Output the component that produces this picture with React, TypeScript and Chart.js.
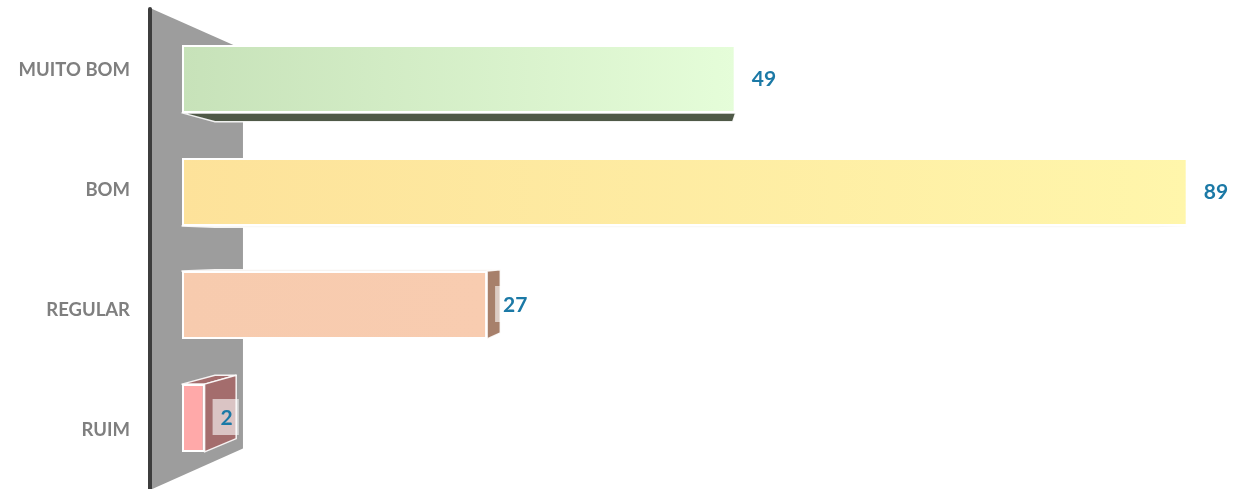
import React, { useEffect, useRef } from "react";
import { Chart, registerables } from "chart.js";

Chart.register(...registerables);

const categories = ["MUITO BOM", "BOM", "REGULAR", "RUIM"];
const values = [49, 89, 27, 2];
const frontStart = ["#c7e2b9", "#fde29a", "#f7cbae", "#ffa9a9"];
const frontEnd = ["#e5fdd9", "#fff6ab", "#f8ccb0", "#ffa9a9"];
const sideColors = ["#4f5947", "#bdb69a", "#a7806b", "#a46d6d"];
const X_MAX = 90;
const VANISH_VALUE = 45;

const LABEL_FONT = "bold 18.5px Lato, 'Open Sans', sans-serif";
const VALUE_FONT = "bold 21px Lato, 'Open Sans', sans-serif";
const LABEL_COLOR = "#7f7f7f";
const VALUE_COLOR = "#1b79a6";

const depth3d = {
  id: "depth3d",
  beforeDatasetsDraw(chart: any) {
    const ctx = chart.ctx;
    const { left, top, bottom } = chart.chartArea;
    const xs = chart.scales.x;
    const vx = xs.getPixelForValue(VANISH_VALUE);
    const vy = (top + bottom) / 2;
    const proj = (x: number, y: number, s: number) => [vx + s * (x - vx), vy + s * (y - vy)];

    // back wall
    const wx = left - 32;
    const wt = 8;
    const wb = chart.height + 1;
    const sW = 0.828;
    const [bx, bt] = proj(wx, wt, sW);
    const [, bb] = proj(wx, wb, sW);
    ctx.save();
    ctx.fillStyle = "#9d9d9d";
    ctx.beginPath();
    ctx.moveTo(wx, wt);
    ctx.lineTo(bx, bt);
    ctx.lineTo(bx, bb);
    ctx.lineTo(wx, wb);
    ctx.closePath();
    ctx.fill();

    ctx.strokeStyle = "#3d3d3d";
    ctx.lineWidth = 4;
    ctx.lineCap = "round";
    ctx.beginPath();
    ctx.moveTo(wx, wt + 1);
    ctx.lineTo(wx, chart.height + 4);
    ctx.stroke();

    // side faces
    const meta = chart.getDatasetMeta(0);
    const s = 0.935;
    meta.data.forEach((bar: any, i: number) => {
      const { x, y, base, height } = bar.getProps(["x", "y", "base", "height"], true);
      const L = base, R = x, T = y - height / 2, B = y + height / 2;
      const [L2, T2] = proj(L, T, s);
      const [R2, B2] = proj(R, B, s);
      ctx.fillStyle = sideColors[i];
      ctx.strokeStyle = "rgba(255,255,255,0.9)";
      ctx.lineWidth = 1.5;
      ctx.lineJoin = "round";
      const poly = (pts: number[][]) => {
        ctx.beginPath();
        ctx.moveTo(pts[0][0], pts[0][1]);
        for (let k = 1; k < pts.length; k++) ctx.lineTo(pts[k][0], pts[k][1]);
        ctx.closePath();
        ctx.fill();
        ctx.stroke();
      };
      if (B2 > B) poly([[L, B], [R, B], [R2, B2], [L2, B2]]);
      if (T2 < T) poly([[L, T], [R, T], [R2, T2], [L2, T2]]);
      if (R2 > R) poly([[R, T], [R2, T2], [R2, B2], [R, B]]);
    });
    ctx.restore();
  },
  afterDatasetsDraw(chart: any) {
    const ctx = chart.ctx;
    const { left, top, bottom } = chart.chartArea;
    const vy = (top + bottom) / 2;
    const meta = chart.getDatasetMeta(0);
    ctx.save();
    meta.data.forEach((bar: any, i: number) => {
      const { x, y } = bar.getProps(["x", "y"], true);
      // category label (front plane)
      ctx.font = LABEL_FONT;
      ctx.fillStyle = LABEL_COLOR;
      ctx.textAlign = "right";
      ctx.textBaseline = "middle";
      const ly = vy + 1.063 * (y - vy) + 1.5;
      ctx.fillText(categories[i], left - 52, ly);

      // value label
      ctx.font = VALUE_FONT;
      const txt = String(values[i]);
      const w = ctx.measureText(txt).width;
      ctx.fillStyle = "rgba(255,255,255,0.6)";
      ctx.fillRect(x + 8, y - 19, w + 14, 36);
      ctx.fillStyle = VALUE_COLOR;
      ctx.textAlign = "left";
      ctx.fillText(txt, x + 16, y + 0.5);
    });
    ctx.restore();
  },
};

export default function App() {
  const ref = useRef<HTMLCanvasElement | null>(null);
  useEffect(() => {
    if (!ref.current) return;
    const chart = new Chart(ref.current, {
      type: "bar",
      data: {
        labels: categories,
        datasets: [
          {
            data: values,
            backgroundColor: (c: any) => {
              const chart = c.chart;
              const area = chart.chartArea;
              const i = c.dataIndex;
              if (!area || i === undefined) return frontStart[i ?? 0];
              const xs = chart.scales.x;
              const x0 = xs.getPixelForValue(0);
              const x1 = xs.getPixelForValue(values[i]);
              const g = chart.ctx.createLinearGradient(x0, 0, Math.max(x1, x0 + 1), 0);
              g.addColorStop(0, frontStart[i]);
              g.addColorStop(1, frontEnd[i]);
              return g;
            },
            borderColor: "#ffffff",
            borderWidth: 2,
            borderSkipped: false,
            barPercentage: 0.6,
            categoryPercentage: 1,
          },
        ],
      },
      options: {
        indexAxis: "y",
        animation: false,
        responsive: true,
        maintainAspectRatio: false,
        layout: { padding: { top: 22.5, bottom: 14.5, right: 51, left: 0 } },
        plugins: { legend: { display: false }, tooltip: { enabled: false } },
        scales: {
          x: { display: false, min: 0, max: X_MAX },
          y: {
            display: true,
            grid: { display: false },
            border: { display: false },
            ticks: { display: false },
            afterFit: (axis: any) => {
              axis.width = 182;
            },
          },
        },
      },
      plugins: [depth3d],
    });
    return () => chart.destroy();
  }, []);
  return (
    <div style={{ position: "fixed", left: 0, top: 0, width: 1250, height: 489, background: "#fff" }}>
      <canvas ref={ref} />
    </div>
  );
}
